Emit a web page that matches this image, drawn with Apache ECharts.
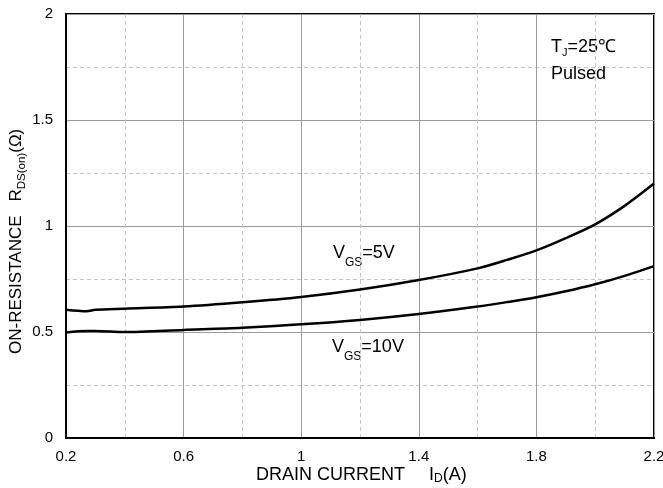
<!DOCTYPE html>
<html>
<head>
<meta charset="utf-8">
<script src="https://cdn.jsdelivr.net/npm/echarts@6/dist/echarts.min.js"></script>
<style>html,body{margin:0;padding:0;background:#fff}#c{width:663px;height:488px}</style>
</head>
<body>
<div id="c"></div>
<script>
// Drain current (A)
const currentA = [0.2, 0.27, 0.3, 0.4, 0.6, 0.8, 1.0, 1.2, 1.4, 1.6, 1.7, 1.8, 1.9, 2.0, 2.1, 2.2];
// R_DS(on) (ohm) for VGS = 5V
const rdsVgs5 = [0.605, 0.598, 0.605, 0.61, 0.62, 0.64, 0.665, 0.70, 0.745, 0.80, 0.84, 0.885, 0.943, 1.008, 1.095, 1.2];
// R_DS(on) (ohm) for VGS = 10V
const rdsVgs10 = [0.498, 0.505, 0.505, 0.50, 0.51, 0.52, 0.536, 0.557, 0.585, 0.62, 0.641, 0.664, 0.692, 0.725, 0.765, 0.811];
const xTicks = [0.2, 0.6, 1, 1.4, 1.8, 2.2];
const yTicks = [0, 0.5, 1, 1.5, 2];

const pairs = (xs, ys) => xs.map((x, i) => [x, ys[i]]);
const FONT = '"Liberation Sans", Arial, sans-serif';

const mctx = document.createElement('canvas').getContext('2d');
function measure(t, size) { mctx.font = size + 'px ' + FONT; return mctx.measureText(t).width; }

// Build a row of text pieces sharing a baseline (sub/superscripts via dy)
function textRow(parts, x0, base) {
  const out = [];
  let cx = x0;
  parts.forEach(p => {
    if (p.gap) { cx += p.gap; return; }
    const dy = p.dy || 0;
    out.push({type: 'text', x: cx, y: base + dy - 0.35 * p.size, silent: true,
      style: {text: p.t, fontSize: p.size, fontFamily: FONT, fill: '#000',
        textAlign: 'left', align: 'left', textVerticalAlign: 'middle', verticalAlign: 'middle'}});
    cx += measure(p.t, p.size);
  });
  return out;
}

const chart = echarts.init(document.getElementById('c'), null, {renderer: 'canvas'});
chart.setOption({
  animation: false,
  backgroundColor: '#fff',
  grid: {left: 66, right: 9, top: 14, bottom: 50, containLabel: false, outerBoundsMode: 'none',
    show: true, borderColor: '#000', borderWidth: 2, backgroundColor: 'transparent'},
  xAxis: {
    type: 'value', min: 0.2, max: 2.2, interval: 0.4,
    axisLine: {show: true, lineStyle: {color: '#000', width: 2}},
    axisTick: {show: false},
    axisLabel: {color: '#000', fontSize: 15, fontFamily: FONT, margin: 11,
      formatter: v => (xTicks.some(t => Math.abs(t - v) < 1e-6) ? String(+v.toFixed(1)) : '')},
    splitLine: {show: true, lineStyle: {color: '#9a9a9a', width: 1}},
    minorTick: {show: false, splitNumber: 2},
    minorSplitLine: {show: true, lineStyle: {color: '#c4c4c4', width: 1, type: [4, 3]}}
  },
  yAxis: {
    type: 'value', min: 0, max: 2, interval: 0.5,
    axisLine: {show: true, lineStyle: {color: '#000', width: 2}},
    axisTick: {show: false},
    axisLabel: {color: '#000', fontSize: 15, fontFamily: FONT, margin: 13,
      formatter: v => (yTicks.some(t => Math.abs(t - v) < 1e-6) ? String(v) : '')},
    splitLine: {show: true, lineStyle: {color: '#9a9a9a', width: 1}},
    minorTick: {show: false, splitNumber: 2},
    minorSplitLine: {show: true, lineStyle: {color: '#c4c4c4', width: 1, type: [4, 3]}}
  },
  series: [
    {type: 'line', name: 'VGS=5V', data: pairs(currentA, rdsVgs5), smooth: 0.3, showSymbol: false, lineStyle: {color: '#000', width: 2.5}, z: 5},
    {type: 'line', name: 'VGS=10V', data: pairs(currentA, rdsVgs10), smooth: 0.3, showSymbol: false, lineStyle: {color: '#000', width: 2.5}, z: 5}
  ],
  graphic: [
    {type: 'group', x: 0, y: 354, rotation: Math.PI / 2, z: 10,
      children: textRow([{t: 'ON-RESISTANCE', size: 17}, {gap: 14}, {t: 'R', size: 17},
        {t: 'DS(on)', size: 11.5, dy: 4}, {t: '(Ω)', size: 17}], 0, 22)},
    {type: 'group', z: 10,
      children: textRow([{t: 'DRAIN CURRENT', size: 18}, {gap: 24}, {t: 'I', size: 18},
        {t: 'D', size: 12, dy: 2}, {t: '(A)', size: 18}], 256, 481)},
    {type: 'group', z: 10,
      children: textRow([{t: 'T', size: 18}, {t: 'J', size: 11, dy: 4}, {t: '=25℃', size: 18}], 551, 53)},
    {type: 'group', z: 10,
      children: textRow([{t: 'Pulsed', size: 18}], 551, 80)},
    {type: 'group', z: 10,
      children: textRow([{t: 'V', size: 18}, {t: 'GS', size: 12, dy: 8}, {t: '=5V', size: 18}], 333, 259)},
    {type: 'group', z: 10,
      children: textRow([{t: 'V', size: 18}, {t: 'GS', size: 12, dy: 8}, {t: '=10V', size: 18}], 332, 353)}
  ]
});
</script>
</body>
</html>
